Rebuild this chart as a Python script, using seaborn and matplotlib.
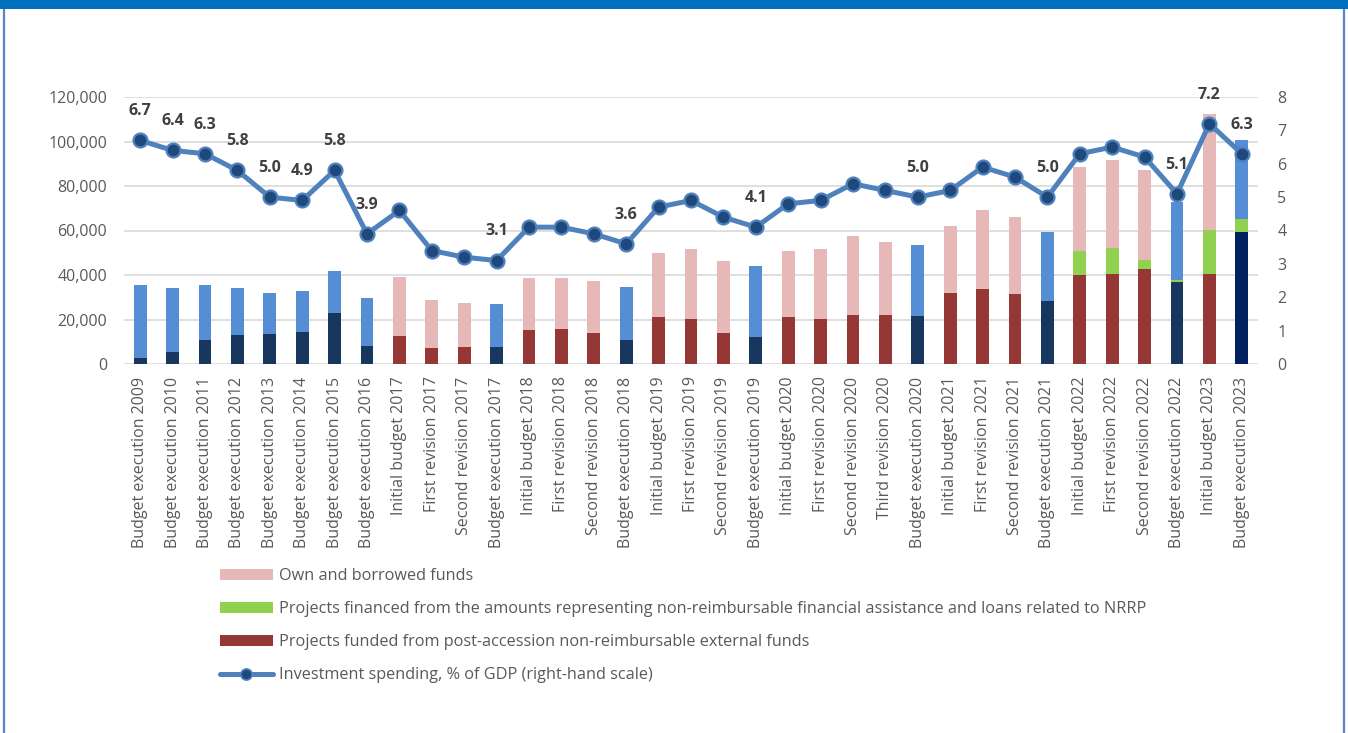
import numpy as np
import pandas as pd
import matplotlib
matplotlib.use("Agg")
import matplotlib.pyplot as plt
from matplotlib.patches import Patch, Rectangle
from matplotlib.lines import Line2D
from matplotlib.ticker import FuncFormatter, FixedLocator
import seaborn as sns

# ---- data -----------------------------------------------------------------
categories = [
    "Budget execution 2009", "Budget execution 2010", "Budget execution 2011",
    "Budget execution 2012", "Budget execution 2013", "Budget execution 2014",
    "Budget execution 2015", "Budget execution 2016",
    "Initial budget 2017", "First revision 2017", "Second revision 2017", "Budget execution 2017",
    "Initial budget 2018", "First revision 2018", "Second revision 2018", "Budget execution 2018",
    "Initial budget 2019", "First revision 2019", "Second revision 2019", "Budget execution 2019",
    "Initial budget 2020", "First revision 2020", "Second revision 2020", "Third revision 2020",
    "Budget execution 2020",
    "Initial budget 2021", "First revision 2021", "Second revision 2021", "Budget execution 2021",
    "Initial budget 2022", "First revision 2022", "Second revision 2022", "Budget execution 2022",
    "Initial budget 2023", "Budget execution 2023",
]

# post-accession non-reimbursable external funds (bottom segment)
external_funds = [
    2800, 5400, 10800, 13000, 13500, 14400, 22900, 8100,
    12600, 7200, 7500, 7600,
    15300, 15700, 13800, 10800,
    21100, 20100, 13900, 12100,
    21100, 20200, 21900, 22200, 21600,
    32100, 33700, 31600, 28500,
    40100, 40300, 42900, 36900,
    40600, 59500,
]

# NRRP grants and loans (middle segment)
nrrp_funds = [
    0, 0, 0, 0, 0, 0, 0, 0,
    0, 0, 0, 0,
    0, 0, 0, 0,
    0, 0, 0, 0,
    0, 0, 0, 0, 0,
    0, 0, 0, 0,
    10800, 11700, 4000, 900,
    19800, 5800,
]

# own and borrowed funds (top segment)
own_funds = [
    32700, 28800, 24700, 21200, 18400, 18400, 18900, 21600,
    26700, 21600, 19800, 19400,
    23500, 23100, 23500, 23800,
    28800, 31600, 32500, 31900,
    29500, 31500, 35600, 32800, 31900,
    30100, 35500, 34300, 30800,
    37600, 39800, 40400, 35000,
    51800, 35400,
]

# investment spending, % of GDP (right-hand scale)
investment_gdp = [
    6.7, 6.4, 6.3, 5.8, 5.0, 4.9, 5.8, 3.9,
    4.6, 3.4, 3.2, 3.1,
    4.1, 4.1, 3.9, 3.6,
    4.7, 4.9, 4.4, 4.1,
    4.8, 4.9, 5.4, 5.2, 5.0,
    5.2, 5.9, 5.6, 5.0,
    6.3, 6.5, 6.2, 5.1,
    7.2, 6.3,
]

labelled = [c for c in categories if c.startswith("Budget execution")] + ["Initial budget 2023"]

legend_labels = [
    "Own and borrowed funds",
    "Projects financed from the amounts representing non-reimbursable financial assistance and loans related to NRRP",
    "Projects funded from post-accession non-reimbursable external funds",
    "Investment spending, % of GDP (right-hand scale)",
]

# ---- colours ----------------------------------------------------------------
NAVY = "#17375E"
NAVY_DEEP = "#002060"
BLUE = "#558ED5"
RED = "#953735"
PINK = "#E6B9B8"
GREEN = "#92D050"
LINE = "#4F81BD"
MARKER = "#1F497D"
TEXT = "#595959"
GRID = "#D9D9D9"
FS = 11.5

df = pd.DataFrame({
    "category": categories,
    "ext": external_funds,
    "nrrp": nrrp_funds,
    "own": own_funds,
    "gdp": investment_gdp,
})
df["mid"] = df["ext"] + df["nrrp"]
df["total"] = df["mid"] + df["own"]
is_exec = df["category"].str.startswith("Budget execution")

top_pal = {c: (BLUE if e else PINK) for c, e in zip(df["category"], is_exec)}
bottom_pal = {c: (NAVY if e else RED) for c, e in zip(df["category"], is_exec)}
bottom_pal["Budget execution 2023"] = NAVY_DEEP
mid_pal = {c: GREEN for c in df["category"]}

# ---- figure -----------------------------------------------------------------
sns.set_theme(style="white")
plt.rcParams["font.family"] = ["Open Sans", "DejaVu Sans"]

W, H = 1348, 733
fig = plt.figure(figsize=(W / 100, H / 100), dpi=100)
ax = fig.add_axes([124 / W, 1 - 364 / H, (1258 - 124) / W, (364 - 97) / H])

bar_kw = dict(width=0.4, saturation=1, legend=False, ax=ax, linewidth=0, zorder=3)
sns.barplot(data=df, x="category", y="total", hue="category", palette=top_pal, **bar_kw)
sns.barplot(data=df, x="category", y="mid", hue="category", palette=mid_pal, **bar_kw)
sns.barplot(data=df, x="category", y="ext", hue="category", palette=bottom_pal, **bar_kw)

ax.set_xlim(-0.5, len(categories) - 0.5)
ax.set_ylim(0, 120000)
ax.yaxis.set_major_locator(FixedLocator(np.arange(0, 120001, 20000)))
ax.yaxis.set_major_formatter(FuncFormatter(lambda v, p: f"{int(v):,}"))
ax.grid(axis="y", color=GRID, linewidth=1.2, zorder=0)
ax.grid(axis="x", visible=False)
ax.set_axisbelow(True)
for s in ax.spines.values():
    s.set_visible(False)
ax.set_xlabel("")
ax.set_ylabel("")
ax.tick_params(axis="y", length=0, pad=12, labelsize=FS, labelcolor=TEXT)
ax.tick_params(axis="x", length=0, pad=9, labelsize=FS, labelcolor=TEXT)
ax.set_xticks(range(len(categories)))
ax.set_xticklabels(categories, rotation=90, ha="center", va="top")

# right-hand scale: investment spending as % of GDP
ax2 = ax.twinx()
x = np.arange(len(categories))
sns.lineplot(x=x, y=df["gdp"].values, ax=ax2, color=LINE, linewidth=3.6,
             marker="o", markersize=10, markerfacecolor=MARKER,
             markeredgecolor=LINE, markeredgewidth=1.6, zorder=5)
ax2.set_ylim(0, 8)
ax2.set_xlim(-0.5, len(categories) - 0.5)
ax2.yaxis.set_major_locator(FixedLocator(np.arange(0, 9, 1)))
ax2.tick_params(axis="y", length=0, pad=14, labelsize=FS, labelcolor=TEXT)
ax2.grid(False)
for s in ax2.spines.values():
    s.set_visible(False)
ax2.set_ylabel("")

for i, (cat, v) in enumerate(zip(df["category"], df["gdp"])):
    if cat in labelled:
        ax2.annotate(f"{v:.1f}", (i, v), xytext=(0, 21), textcoords="offset points",
                     ha="center", va="center", fontsize=FS, fontweight="bold",
                     color="#404040", zorder=6)

# ---- legend -----------------------------------------------------------------
handles = [
    Patch(facecolor=PINK, edgecolor="none"),
    Patch(facecolor=GREEN, edgecolor="none"),
    Patch(facecolor=RED, edgecolor="none"),
    Line2D([0], [0], color=LINE, linewidth=3.6, marker="o", markersize=8,
           markerfacecolor=MARKER, markeredgecolor=LINE, markeredgewidth=1.2),
]
fig.legend(handles, legend_labels, loc="upper left",
           bbox_to_anchor=(220 / W, 1 - 568 / H), frameon=False,
           fontsize=11.7, labelcolor=TEXT, handlelength=3.25, handleheight=0.62,
           handletextpad=0.38, labelspacing=1.05, borderpad=0, borderaxespad=0)

# ---- frame ------------------------------------------------------------------
fig.patches.append(Rectangle((0, 1 - 9 / H), 1, 9 / H, transform=fig.transFigure,
                             facecolor="#0070C0", edgecolor="none", zorder=10))
for xp in (4 / W, 1344 / W):
    fig.lines.append(Line2D([xp, xp], [0, 1 - 9 / H], transform=fig.transFigure,
                            color="#5B86C5", linewidth=1.6, zorder=10))

fig.savefig("out.png", dpi=100, facecolor="white")
